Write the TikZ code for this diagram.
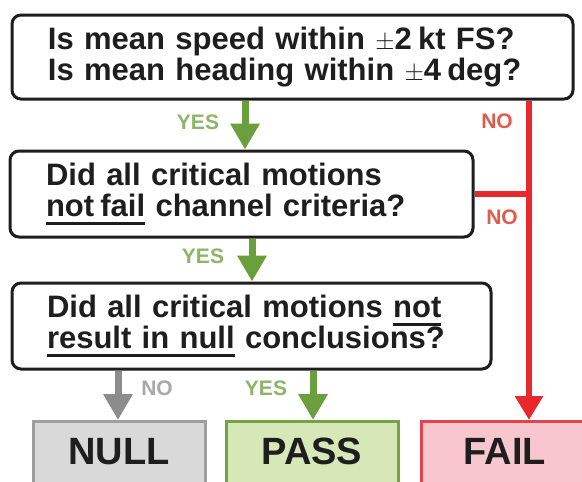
\documentclass[tikz,border=0pt]{standalone}
\usepackage{fontspec}
\setmainfont{Liberation Sans}
\usetikzlibrary{arrows.meta}

\definecolor{ink}{HTML}{1E1E1E}
\definecolor{yesarrow}{HTML}{6B9E3C}
\definecolor{yestext}{HTML}{8DB56A}
\definecolor{failred}{HTML}{E8282B}
\definecolor{notext}{HTML}{E25A4C}
\definecolor{grayarrow}{HTML}{8C8C8C}
\definecolor{graytext}{HTML}{A8A8A8}
\definecolor{nullfill}{HTML}{D9D9D9}
\definecolor{nullborder}{HTML}{9E9E9E}
\definecolor{passfill}{HTML}{D6E7B8}
\definecolor{passborder}{HTML}{76A346}
\definecolor{failfill}{HTML}{F8C6CF}
\definecolor{failborder}{HTML}{E0444E}

% underline with a fixed depth and thickness
\newsavebox{\undlbox}
\newcommand{\undl}[1]{\leavevmode\sbox{\undlbox}{#1}\rlap{\rule[-8pt]{\wd\undlbox}{3pt}}\usebox{\undlbox}}

\newcommand{\qfont}{\fontsize{31}{31}\selectfont\bfseries\spaceskip=0.4em plus 0.1em\relax}
\newcommand{\tight}{\hspace{0.2em}}

\begin{document}
\begin{tikzpicture}[x=1pt,y=-1pt,
  question/.style={draw=ink, line width=3pt, rounded corners=9pt, fill=white,
    align=left, inner xsep=0pt, inner ysep=0pt, font=\qfont, text=ink},
  outcome/.style={line width=3pt, minimum width=172pt, anchor=north,
    text height=28pt, text depth=60pt, inner ysep=15pt,
    font=\fontsize{38}{38}\selectfont\bfseries, text=ink},
  arr/.style={line width=7pt, -{Triangle[width=28pt,length=26pt]}},
  lbl/.style={font=\fontsize{21}{21}\selectfont\bfseries}
]
\useasboundingbox (0,0) rectangle (582,482);
\clip (0,0) rectangle (582,482);
\fill[white] (0,0) rectangle (582,482);

% question boxes
\node[question, minimum width=561pt, minimum height=84pt, text width=489pt] (q1) at (292.5,57)
  {Is mean speed within $\pm$2\tight kt FS?\\Is mean heading within $\pm$4\tight deg?};
\node[question, minimum width=463pt, minimum height=86pt, text width=391pt] (q2) at (241.5,194)
  {Did all critical motions\\\undl{not\tight fail} channel criteria?};
\node[question, minimum width=479pt, minimum height=86pt, text width=409pt] (q3) at (251.5,326)
  {Did all critical motions \undl{not}\\\undl{result in null} conclusions?};

% outcome boxes
\node[outcome, draw=nullborder, fill=nullfill] (null) at (119,420) {NULL};
\node[outcome, draw=passborder, fill=passfill] (pass) at (312,420) {PASS};
\node[outcome, draw=failborder, fill=failfill, minimum width=168pt] (fail) at (505,420) {FAIL};

% arrow columns
\coordinate (g1) at (245,0);
\coordinate (g2) at (252,0);
\coordinate (g3) at (313,0);
\coordinate (n3) at (118,0);
\coordinate (rx) at (529,0);

\draw[arr, yesarrow] (q1.south -| g1) -- (q2.north -| g1);
\draw[arr, yesarrow] (q2.south -| g2) -- (q3.north -| g2);
\draw[arr, yesarrow] (q3.south -| g3) -- (pass.north -| g3);
\draw[arr, grayarrow] (q3.south -| n3) -- (null.north -| n3);
\draw[failred, line width=6pt] (q2.east) -- (q2.east -| rx);
\draw[failred, line width=6pt, -{Triangle[width=27pt,length=24pt]}] (q1.south -| rx) -- (fail.north -| rx);

% branch labels
\node[lbl, text=yestext] (y1) at (198,122) {YES};
\node[lbl, text=yestext] (y2) at (203,256) {YES};
\node[lbl, text=yestext] (y3) at (266,388) {YES};
\node[lbl, text=graytext] (no3) at (157,388) {NO};
\node[lbl, text=notext] (no1) at (497,121) {NO};
\node[lbl, text=notext] (no2) at (502,217) {NO};
\end{tikzpicture}
\end{document}
